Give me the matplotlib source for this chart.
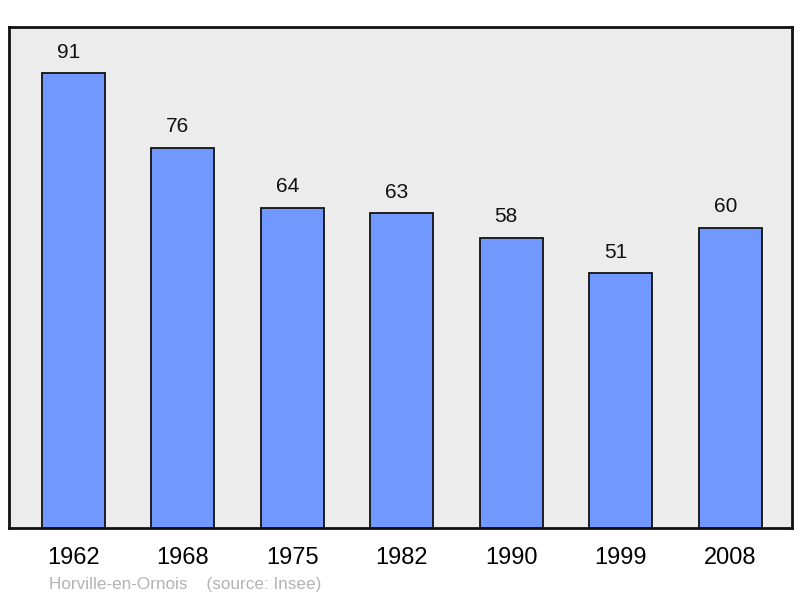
import matplotlib
matplotlib.use("Agg")
import matplotlib.pyplot as plt

years = ["1962", "1968", "1975", "1982", "1990", "1999", "2008"]
population = [91, 76, 64, 63, 58, 51, 60]
commune = "Horville-en-Ornois"
source = "(source: Insee)"

plt.rcParams['font.family'] = ['Liberation Sans', 'DejaVu Sans']

fig = plt.figure(figsize=(8.0, 5.98), dpi=100)
ax = fig.add_axes([9/800, 70/598, 783/800, 501/598])
ax.set_facecolor('#ececec')
x = list(range(len(years)))
ax.bar(x, population, width=0.575, color='#7098ff', edgecolor='#111111', linewidth=1.3, zorder=2)
for xi, v in zip(x, population):
    ax.text(xi - 0.045, v + 2.3, str(v), ha='center', va='bottom', fontsize=15, color='#111111')
ax.set_xlim(-0.585, 6.565)
ax.set_ylim(0, 100.2)
ax.set_xticks(x)
ax.set_xticklabels(years, fontsize=17)
ax.tick_params(axis='x', length=0, pad=14)
ax.set_yticks([])
for s in ax.spines.values():
    s.set_linewidth(2)
    s.set_color('#111111')
fig.text(49/800, 1 - 584/598, commune + "    " + source, fontsize=12.3, color='#b3b3b3', ha='left', va='center')
fig.savefig("out.png", dpi=100)
